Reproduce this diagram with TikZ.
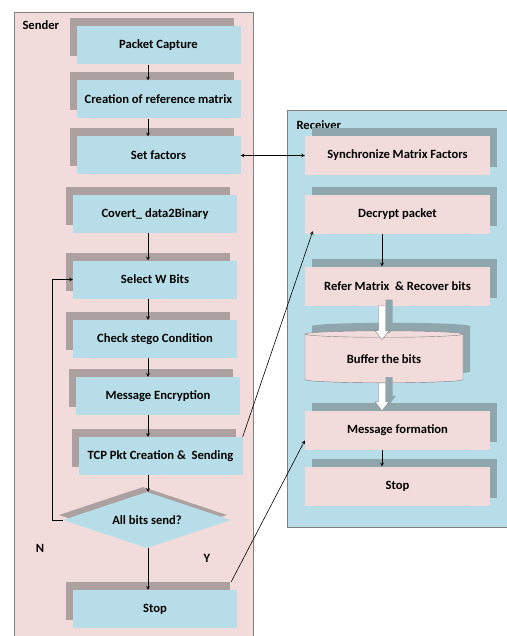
\documentclass[tikz,border=0pt]{standalone}
\usepackage{fontspec}
\setmainfont{Carlito}
\usetikzlibrary{positioning,shapes.geometric,shadows,calc}
\definecolor{senderbg}{RGB}{242,220,219}
\definecolor{receiverbg}{RGB}{183,222,232}
\definecolor{boxblue}{RGB}{183,222,232}
\definecolor{boxpink}{RGB}{242,220,219}
\definecolor{sshade}{RGB}{172,160,160}
\definecolor{rshade}{RGB}{143,166,172}
\definecolor{panelline}{RGB}{128,128,128}
\tikzset{%
  sender box/.style={
    rectangle,
    fill=boxblue,
    minimum width=164pt,
    minimum height=38pt,
    general shadow={fill=sshade, shadow xshift=-7pt, shadow yshift=8pt}
  },
  receiver box/.style={
    rectangle,
    fill=boxpink,
    minimum width=185pt,
    minimum height=39pt,
    general shadow={fill=rshade, shadow xshift=7pt, shadow yshift=8pt}
  },
  decision/.style={
    diamond,
    aspect=3,
    fill=boxblue,
    minimum width=168pt,
    minimum height=56pt,
    inner sep=1pt,
    general shadow={fill=sshade, shadow xshift=-4pt, shadow yshift=5pt}
  },
  store/.style={
    cylinder,
    shape border rotate=90,
    aspect=0.08,
    draw=gray,
    fill=boxpink,
    minimum width=158pt,
    minimum height=52pt,
    general shadow={fill=rshade, shadow xshift=7pt, shadow yshift=8pt}
  },
  block arrow/.style={
    fill=white,
    draw=gray,
    general shadow={fill=rshade, shadow xshift=7pt, shadow yshift=6pt}
  },
  panel/.style={draw=panelline, line width=0.8pt},
  flow/.style={->, >=stealth, line width=0.6pt},
}
\newcommand{\blockarrow}[2]{%
  \path [block arrow] ($(#1)+(-3.5,0)$) -- ($(#2)+(-3.5,-9)$) -- ($(#2)+(-7,-9)$)
    -- (#2) -- ($(#2)+(7,-9)$) -- ($(#2)+(3.5,-9)$) -- ($(#1)+(3.5,0)$) -- cycle;}

\begin{document}
\begin{tikzpicture}[x=1pt, y=-1pt, font=\fontsize{12.6}{15}\selectfont\bfseries]
        \useasboundingbox (0,0) rectangle (506,636);

        % panels
        \draw [panel, fill=senderbg] (14,12) rectangle (253,640);
        \draw [panel, fill=receiverbg] (287,110) rectangle (510,527);
        \node [anchor=west] (sender) at (19,25) {Sender};
        \node [anchor=west] (receiver) at (293,125) {Receiver};

        % sender side
        \node [sender box] (capture) at (158.5,45.5) {Packet Capture};
        \node [sender box] (refmat) at (158.5,99.5) {Creation of reference matrix};
        \node [sender box] (factors) at (158.5,155.5) {Set factors};
        \node [sender box] (binary) at (155,214) {Covert\_ data2Binary};
        \node [sender box] (wbits) at (155,279.5) {Select W Bits};
        \node [sender box] (stego) at (155,339) {Check stego Condition};
        \node [sender box] (encrypt) at (158,396) {Message Encryption};
        \node [sender box] (tcp) at (160.5,456) {TCP Pkt Creation \& ~Sending};
        \node [decision] (allsent) at (147,520) {All bits send?};
        \node [sender box] (sstop) at (155,609) {Stop};
        \node (no) at (40,548) {N};
        \node (yes) at (207,558) {Y};

        % receiver side
        \node [receiver box] (sync) at (397.5,155.5) {Synchronize Matrix Factors};
        \node [receiver box] (decrypt) at (397.5,214.5) {Decrypt packet};
        \node [receiver box] (recover) at (397.5,286) {Refer Matrix ~\& Recover bits};
        \node [store] (buffer) at (384,359) {Buffer the bits};
        \node [receiver box] (msgform) at (397.5,430.5) {Message formation};
        \node [receiver box] (rstop) at (397.5,486) {Stop};

        % arrows
        \coordinate (sx) at (148,0);
        \coordinate (rx) at (382,0);
        \foreach \a/\b in {capture/refmat, refmat/factors, binary/wbits, wbits/stego,
                           stego/encrypt, encrypt/tcp, tcp/allsent, allsent/sstop}
        \draw [flow] (\a.south -| sx) -- (\b.north -| sx);
        \foreach \a/\b in {decrypt/recover, msgform/rstop}
        \draw [flow] (\a.south -| rx) -- (\b.north -| rx);
        \draw [flow] (allsent.west) -- ++(-11,0) |- (wbits.west);
        \draw [flow, <->] (factors.east) -- (sync.west);
        \draw [flow] (tcp.north east) -- ([xshift=8pt, yshift=3pt]decrypt.south west);
        \draw [flow] ([xshift=-6pt, yshift=8pt]sstop.north east) -- ([yshift=-10pt]msgform.west);

        \coordinate (b1top) at (recover.south -| rx);
        \coordinate (b1end) at (buffer.north -| rx);
        \coordinate (b1tip) at ($(b1end)+(0,9)$);
        \coordinate (b2top) at (buffer.south -| rx);
        \coordinate (b2tip) at (msgform.north -| rx);
        \blockarrow{b1top}{b1tip}
        \blockarrow{b2top}{b2tip}

\end{tikzpicture}
\end{document}
